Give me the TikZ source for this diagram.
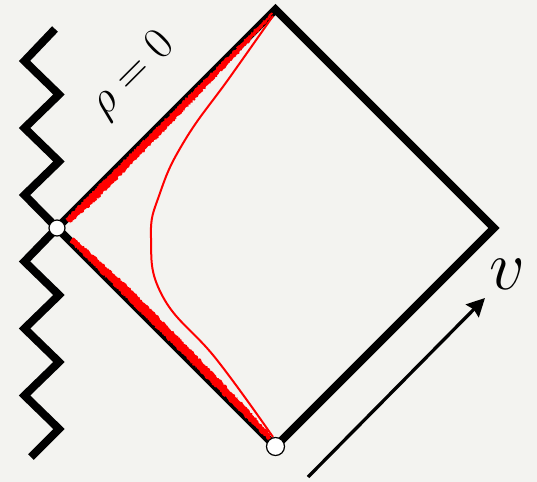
\documentclass[tikz,border=0pt]{standalone}
\usetikzlibrary{arrows.meta,decorations.pathmorphing}
\definecolor{paper}{RGB}{243,243,240}
\definecolor{hot}{RGB}{255,0,0}
\begin{document}
\begin{tikzpicture}[x=1bp,y=-1bp,
  edge/.style={line width=8bp, line join=miter, line cap=butt},
  band/.style={fill=hot, decorate, decoration={random steps,segment length=1.2bp,amplitude=0.9bp}},
  thinred/.style={draw=hot, line width=2bp},
  hole/.style={circle, draw=black, line width=1.2bp, fill=white, inner sep=0pt},
  lab/.style={inner sep=0pt}]
\pgfmathsetseed{7}
\fill[paper] (0,0) rectangle (537,482);
\useasboundingbox (0,0) rectangle (537,482);
% diamond corners
\coordinate (L) at (57,228);
\coordinate (T) at (275.5,9.5);
\coordinate (R) at (494,228);
\coordinate (B) at (275.5,446.5);
% zigzag singularity
\coordinate (z0) at (55,29);
\coordinate (z13) at (31,457);
\draw[edge] (z0) -- (24.5,61) -- (59,94.5) -- (24.5,128) -- (59,161.5) -- (24.5,195) -- (L)
  -- (24.5,261.5) -- (59,295) -- (24.5,328.5) -- (59,362) -- (24.5,395.5) -- (59,429) -- (z13);
% diamond
\draw[edge] (L) -- (T) -- (R) -- (B) -- cycle;
% red bands
\fill[band] (65.4,218.9) -- (69.98,223.5) -- (95.4,200.9) -- (171.2,123.7) -- (235.3,56.7)
  -- (266.7,22.5) -- (272.9,13.5) -- (271.9,12.4) -- cycle;
\fill[band] (69.76,241.46) -- (73.65,237.57) -- (128.9,287.2) -- (194.1,353.1) -- (247.7,408.8)
  -- (268.1,432.1) -- (273.6,441.8) -- (271.9,443.5) -- cycle;
% thin red curve
\coordinate (c0) at (273,16);
\coordinate (c1) at (273,437);
\draw[thinred] plot[smooth, tension=0.75] coordinates {(c0) (230,77) (185,140) (160,193)
  (151,238) (163,297) (217,360) (c1)};
% holes
\node[hole, minimum size=16bp] (hl) at (L) {};
\node[hole, minimum size=18bp] (hb) at (B) {};
% labels
\node[lab, rotate=45, scale=2.2, font=\fontsize{20}{24}\selectfont] (rho) at (133,75) {$\rho=0$};
\node[lab, scale=3.4, font=\fontsize{20}{24}\selectfont] (vl) at (507,274) {$v$};
% arrow
\coordinate (a0) at (308,477);
\coordinate (a1) at (485,298);
\draw[line width=3.3bp, -{Stealth[length=18bp,width=18bp,inset=2bp]}] (a0) -- (a1);
\end{tikzpicture}
\end{document}
